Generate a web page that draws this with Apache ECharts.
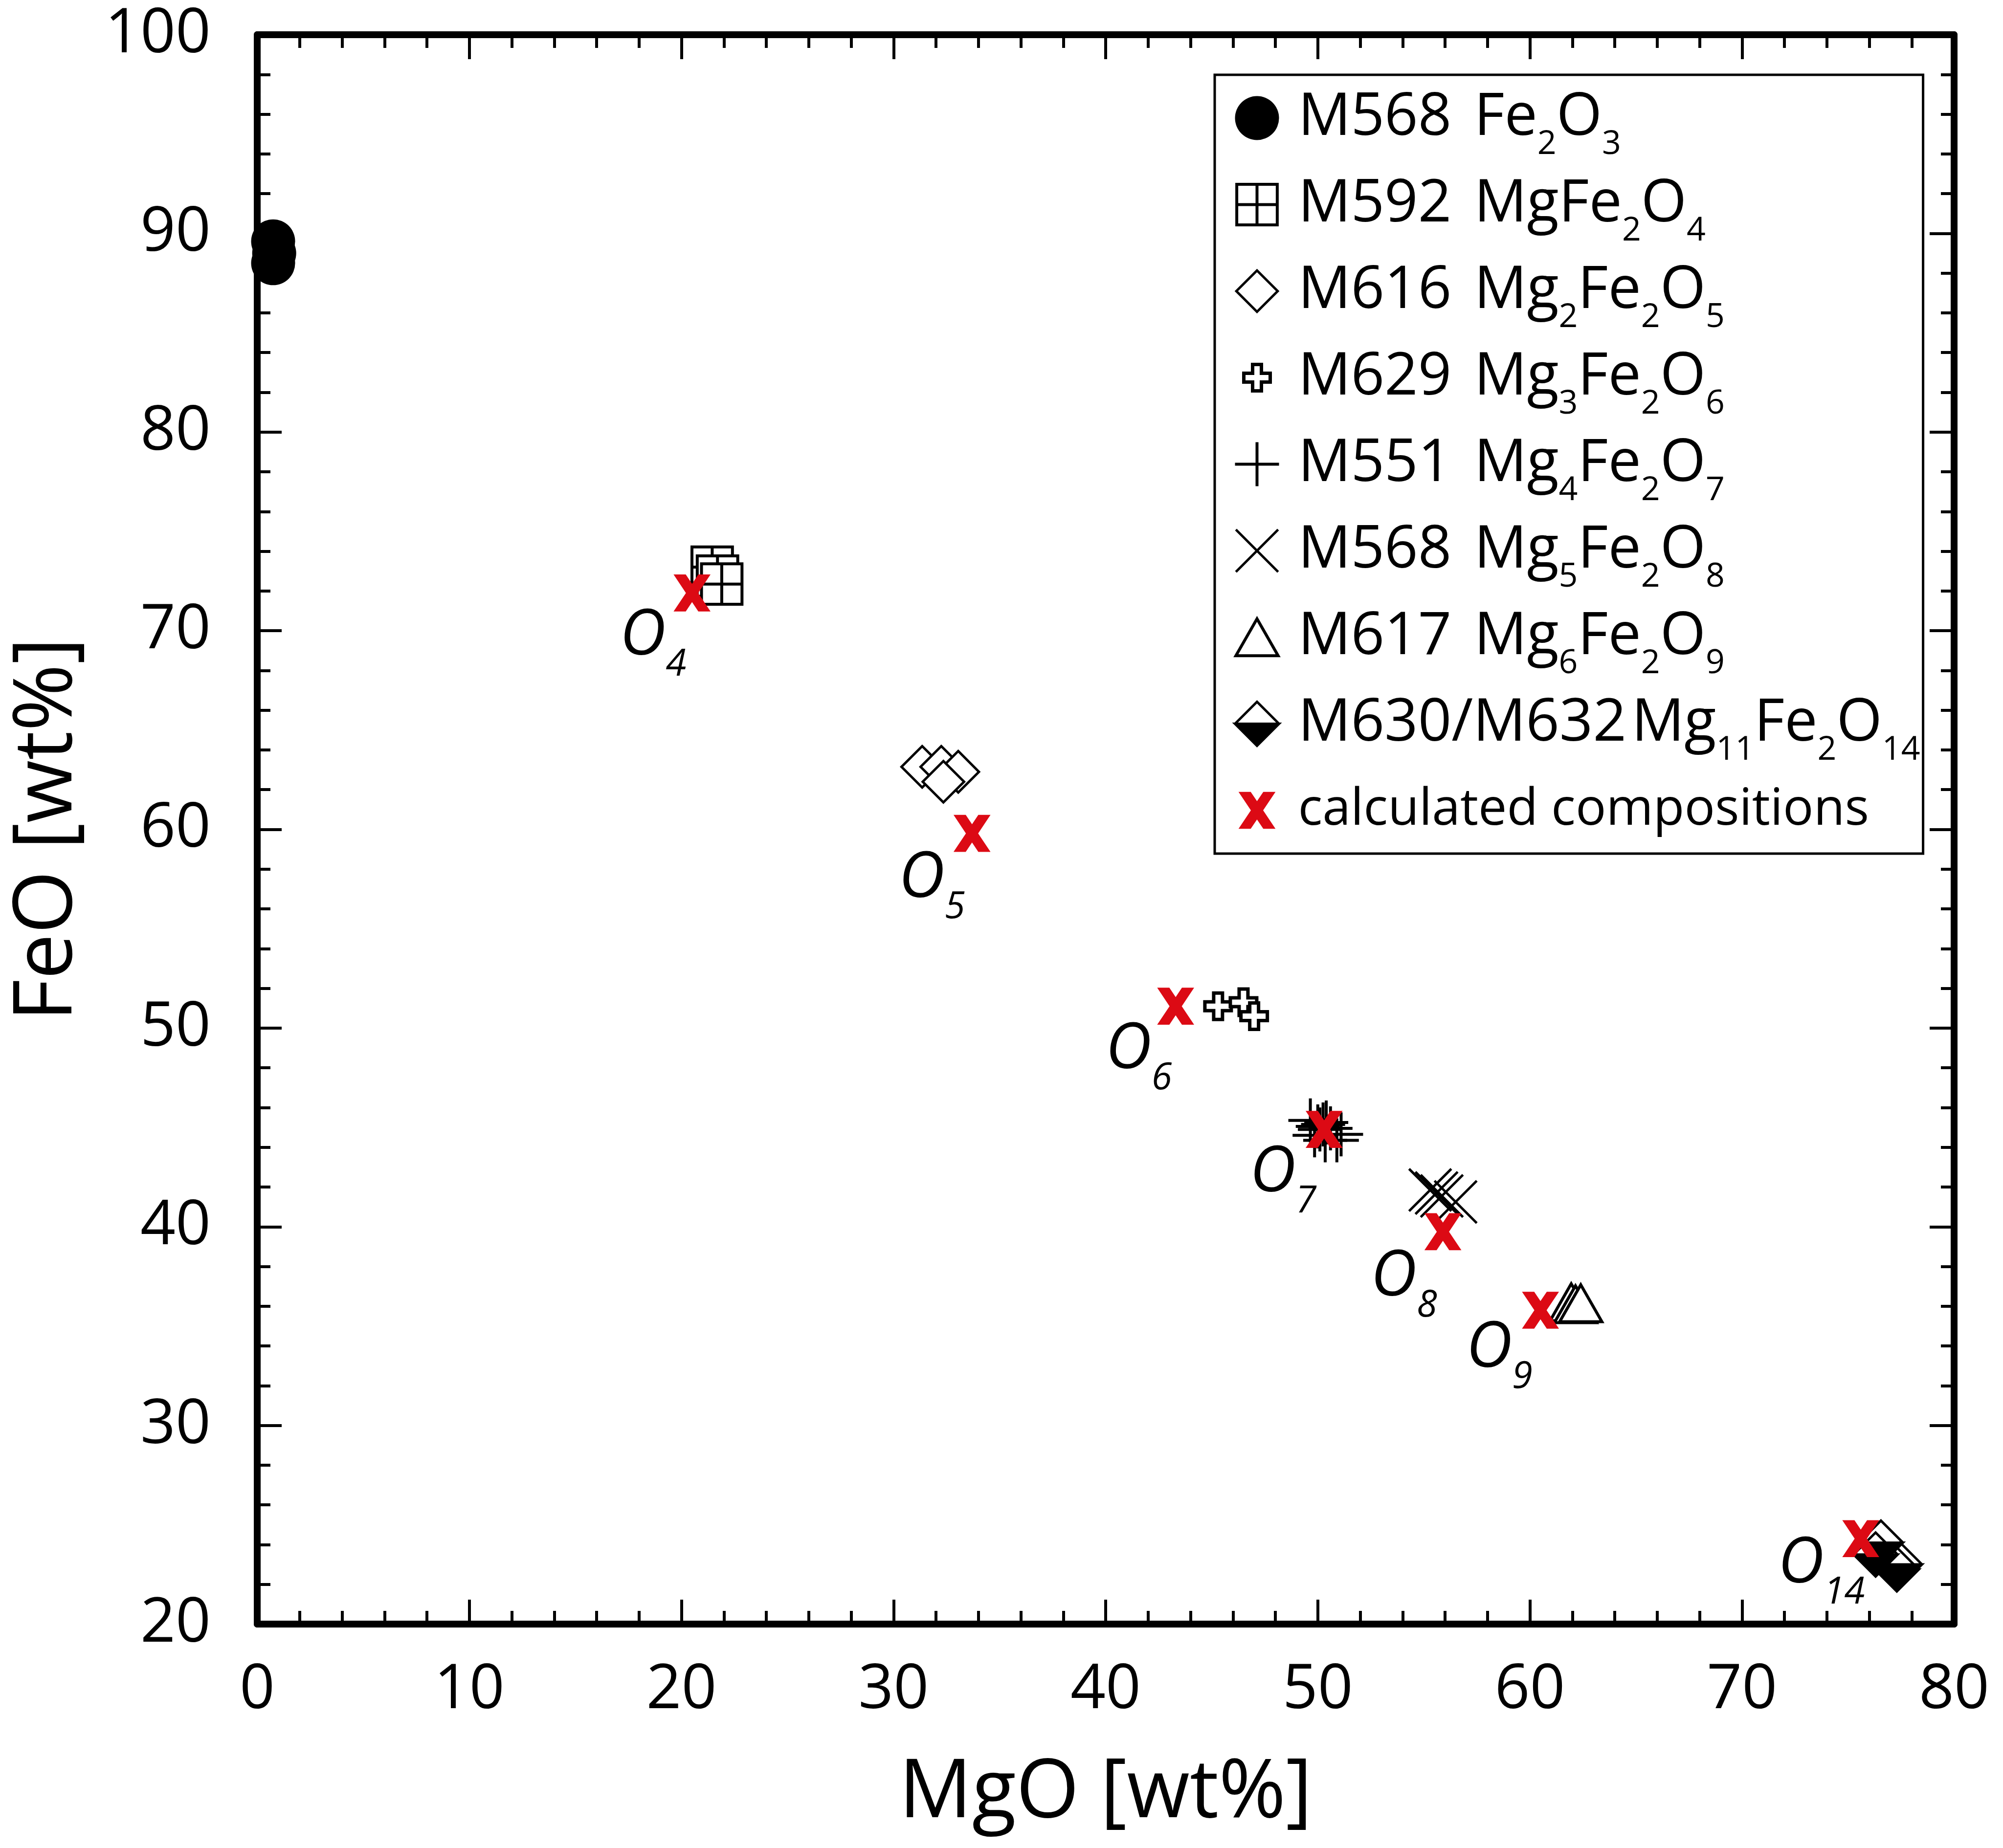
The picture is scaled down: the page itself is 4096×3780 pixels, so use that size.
<!DOCTYPE html>
<html>
<head>
<meta charset="utf-8">
<script src="https://cdn.jsdelivr.net/npm/echarts@6/dist/echarts.min.js"></script>
<style>
html, body { margin: 0; padding: 0; background: #fff; }
#main { width: 4096px; height: 3780px; }
</style>
</head>
<body>
<div id="main"></div>
<script>
// measured compositions, [MgO wt%, FeO wt%]
var m568Fe2O3 = [[0.75, 89.6], [0.8, 89.0], [0.75, 88.5]];
var m592 = [[21.45, 73.2], [21.7, 72.75], [21.9, 72.35]];
var m616 = [[31.35, 63.15], [32.25, 63.15], [33.05, 62.9], [32.35, 62.4]];
var m629 = [[45.3, 51.1], [46.5, 51.3], [47.0, 50.6]];
var m551 = [[49.65, 45.35], [50.25, 45.15], [50.4, 45.25], [49.85, 44.6], [50.35, 44.35], [50.9, 44.35],
  [51.1, 44.65], [50.1, 44.9], [50.6, 44.95], [50.0, 45.05]];
var m568Mg5 = [[55.3, 41.85], [55.85, 41.55], [56.5, 41.25], [55.6, 41.7]];
var m617 = [[61.95, 36.2], [62.15, 36.1], [62.4, 36.15]];
var m630 = [[76.55, 24.1], [76.3, 23.5], [77.45, 23.0], [77.3, 22.75]];

// calculated compositions and where their O_n labels sit
var calcOxygen = ['4', '5', '6', '7', '8', '9', '14'];
var calcPoints = [[20.5, 71.9], [33.7, 59.8], [43.3, 51.1], [50.3, 44.9], [55.9, 39.75], [60.5, 35.8], [75.6, 24.3]];
var labelPoints = [[17.1, 69.7], [30.25, 57.5], [40.0, 48.9], [46.8, 42.7], [52.5, 37.45], [57.0, 33.85], [71.7, 23.0]];

var seriesNames = ['M568 Fe2O3', 'M592 MgFe2O4', 'M616 Mg2Fe2O5', 'M629 Mg3Fe2O6', 'M551 Mg4Fe2O7',
  'M568 Mg5Fe2O8', 'M617 Mg6Fe2O9', 'M630/M632 Mg11Fe2O14', 'calculated compositions'];
var legendText = [
  '{c|M568}{m|Fe}{s|2}{m|O}{s|3}',
  '{c|M592}{m|MgFe}{s|2}{m|O}{s|4}',
  '{c|M616}{m|Mg}{s|2}{m|Fe}{s|2}{m|O}{s|5}',
  '{c|M629}{m|Mg}{s|3}{m|Fe}{s|2}{m|O}{s|6}',
  '{c|M551}{m|Mg}{s|4}{m|Fe}{s|2}{m|O}{s|7}',
  '{c|M568}{m|Mg}{s|5}{m|Fe}{s|2}{m|O}{s|8}',
  '{c|M617}{m|Mg}{s|6}{m|Fe}{s|2}{m|O}{s|9}',
  '{m|M630/M632}{g| }{m|Mg}{s|11}{m|Fe}{s|2}{m|O}{s|14}',
  '{k|calculated compositions}'
];

var FONT = 'Open Sans';
var RED = '#dc0a14';
var pad = 'M0,0M100,100';
var sym = {
  grid: 'path://' + pad + 'M4,4H96V96H4ZM50,4V96M4,50H96',
  diamond: 'path://' + pad + 'M50,3L97,50L50,97L3,50Z',
  cross: 'path://' + pad + 'M40,20H60V40H80V60H60V80H40V60H20V40H40Z',
  plus: 'path://' + pad + 'M50,0V100M0,50H100',
  xmark: 'path://' + pad + 'M2,2L98,98M98,2L2,98',
  triangle: 'path://' + pad + 'M50,8L98,92L2,92Z',
  half: 'path://' + pad + 'M0,50L50,100L100,50ZM0,50L50,0L100,50L50,0Z',
  calc: 'path://' + pad + 'M8,8L35.7,8L50,29.3L64.3,8L92,8L63.9,50L92,92L64.3,92L50,70.7L35.7,92L8,92L36.1,50Z'
};

function pts(name, data, symbol, fill, stroke, bw, z) {
  return {
    type: 'scatter', name: name, data: data, symbol: symbol, symbolSize: 90,
    itemStyle: { color: fill, borderColor: stroke, borderWidth: bw, opacity: 1 },
    z: z || 2, silent: true
  };
}

var axisCommon = {
  type: 'value',
  axisLine: { show: true, onZero: false, lineStyle: { color: '#000', width: 14 } },
  axisTick: { show: true, inside: true, length: 50, lineStyle: { color: '#000', width: 6 } },
  minorTick: { show: true, splitNumber: 5, length: 27, lineStyle: { color: '#000', width: 6 } },
  splitLine: { show: false },
  z: 5
};

var chart = echarts.init(document.getElementById('main'));
var option = {
  animation: false,
  backgroundColor: '#fff',
  textStyle: { fontFamily: FONT, color: '#000' },
  grid: { left: 526, right: 100, top: 71, bottom: 458, containLabel: false, outerBoundsMode: 'none' },
  xAxis: [
    Object.assign({}, axisCommon, {
      min: 0, max: 80, interval: 10, position: 'bottom',
      name: 'MgO [wt%]', nameLocation: 'middle', nameGap: 265,
      nameTextStyle: { fontSize: 166, fontFamily: FONT, color: '#000' },
      axisLabel: { fontSize: 126, margin: 73, color: '#000', fontFamily: FONT }
    }),
    Object.assign({}, axisCommon, {
      min: 0, max: 80, interval: 10, position: 'top',
      axisLabel: { show: false }
    })
  ],
  yAxis: [
    Object.assign({}, axisCommon, {
      min: 20, max: 100, interval: 10, position: 'left',
      name: 'FeO [wt%]', nameLocation: 'middle', nameGap: 344,
      nameTextStyle: { fontSize: 166, fontFamily: FONT, color: '#000' },
      axisLabel: { fontSize: 126, margin: 95, color: '#000', fontFamily: FONT }
    }),
    Object.assign({}, axisCommon, {
      min: 20, max: 100, interval: 10, position: 'right',
      axisLabel: { show: false }
    })
  ],
  legend: {
    orient: 'vertical', left: 2484, top: 153,
    itemWidth: 158, itemHeight: 90, itemGap: 0,
    padding: [0, 6, 0, 38],
    borderColor: '#000', borderWidth: 5, backgroundColor: '#fff',
    selectedMode: false,
    itemStyle: { borderWidth: 'inherit' },
    data: seriesNames,
    formatter: function (name) {
      return legendText[seriesNames.indexOf(name)];
    },
    textStyle: {
      fontFamily: FONT, fontSize: 120, lineHeight: 177, color: '#000',
      rich: {
        c: { fontFamily: FONT, fontSize: 120, lineHeight: 177, width: 360, color: '#000' },
        m: { fontFamily: FONT, fontSize: 120, lineHeight: 177, color: '#000' },
        g: { fontFamily: FONT, fontSize: 40, lineHeight: 177, color: '#000' },
        k: { fontFamily: FONT, fontSize: 104, lineHeight: 177, color: '#000' },
        s: { fontFamily: FONT, fontSize: 68, lineHeight: 177, height: 68, verticalAlign: 'bottom', color: '#000' }
      }
    }
  },
  series: [
    pts(seriesNames[0], m568Fe2O3, 'circle', '#000', '#000', 0),
    pts(seriesNames[1], m592, sym.grid, '#fff', '#000', 6),
    pts(seriesNames[2], m616, sym.diamond, '#fff', '#000', 5),
    pts(seriesNames[3], m629, sym.cross, '#fff', '#000', 7),
    pts(seriesNames[4], m551, sym.plus, '#000', '#000', 6),
    pts(seriesNames[5], m568Mg5, sym.xmark, '#000', '#000', 5),
    pts(seriesNames[6], m617, sym.triangle, '#fff', '#000', 6),
    pts(seriesNames[7], m630, sym.half, '#000', '#000', 5),
    pts(seriesNames[8], calcPoints, sym.calc, RED, RED, 0, 3),
    {
      type: 'scatter', name: 'labels', data: labelPoints, symbol: 'circle', symbolSize: 1,
      itemStyle: { color: 'rgba(0,0,0,0)' }, z: 4, silent: true,
      label: {
        show: true, position: 'inside', align: 'left', verticalAlign: 'middle',
        color: '#000', opacity: 1, textBorderWidth: 0,
        formatter: function (p) { return '{o|O}{s|' + calcOxygen[p.dataIndex] + '}'; },
        rich: {
          o: { fontFamily: FONT, fontSize: 130, fontStyle: 'italic', lineHeight: 150, color: '#000' },
          s: { fontFamily: FONT, fontSize: 76, fontStyle: 'italic', lineHeight: 150, height: 33, verticalAlign: 'bottom', color: '#000' }
        }
      }
    }
  ]
};
chart.setOption(option);
</script>
</body>
</html>
